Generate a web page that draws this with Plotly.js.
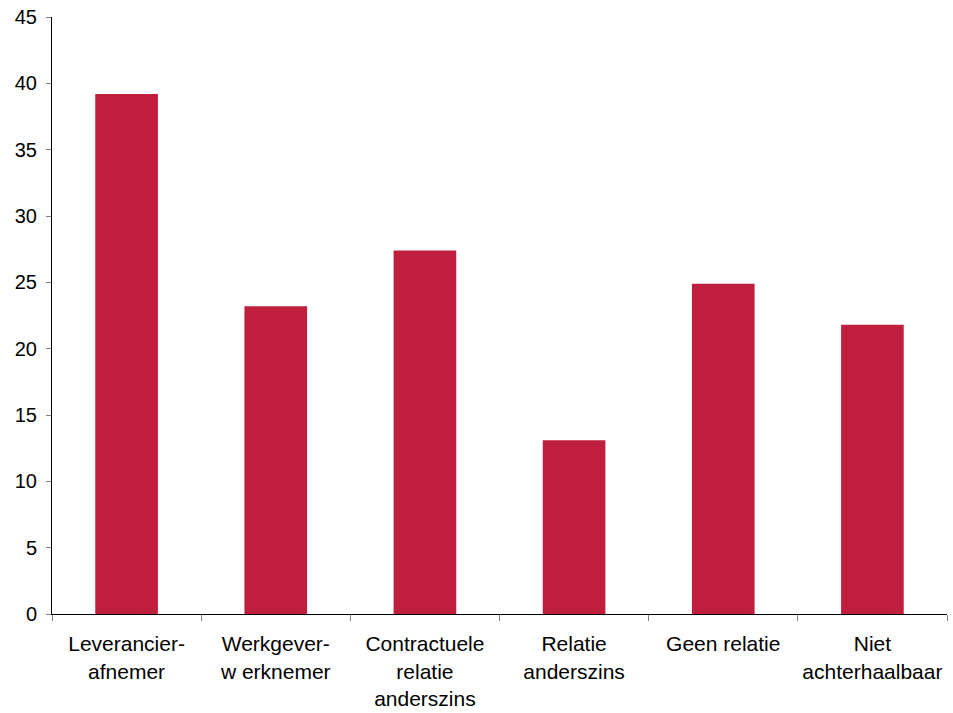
<!DOCTYPE html>
<html>
<head>
<meta charset="utf-8">
<script src="https://cdn.plot.ly/plotly-3.0.1.min.js"></script>
<style>html,body{margin:0;padding:0;background:#fff;}#chart{width:953px;height:713px;}</style>
</head>
<body>
<div id="chart"></div>
<script>
const categories = ["Leverancier-<br>afnemer", "Werkgever-<br>w erknemer", "Contractuele<br>relatie<br>anderszins", "Relatie<br>anderszins", "Geen relatie", "Niet<br>achterhaalbaar"];
const values = [39.2, 23.2, 27.4, 13.1, 24.9, 21.8];
const yTicks = [0, 5, 10, 15, 20, 25, 30, 35, 40, 45];

const trace = {
  type: 'bar',
  x: categories,
  y: values,
  marker: {color: 'rgb(192,30,61)', line: {width: 0}},
  hoverinfo: 'skip'
};

const layout = {
  width: 953,
  height: 713,
  margin: {l: 52, r: 6, t: 17, b: 99},
  paper_bgcolor: '#fff',
  plot_bgcolor: '#fff',
  bargap: 0.58,
  showlegend: false,
  font: {family: 'Arial, "Liberation Sans", sans-serif', color: '#000'},
  xaxis: {
    type: 'category',
    tickson: 'boundaries',
    ticks: 'outside',
    ticklen: 6,
    tickcolor: '#808080',
    tickwidth: 1,
    ticklabelstandoff: 11,
    showline: true,
    linecolor: '#000',
    linewidth: 1,
    showgrid: false,
    zeroline: false,
    tickfont: {size: 21, color: '#000'},
    automargin: false
  },
  yaxis: {
    range: [0, 45],
    tickvals: yTicks,
    ticktext: yTicks.map(String),
    ticks: 'outside',
    ticklen: 5,
    tickcolor: '#808080',
    ticklabelstandoff: 5,
    showline: true,
    linecolor: '#000',
    linewidth: 1,
    showgrid: false,
    zeroline: false,
    tickfont: {size: 20, color: '#000'},
    automargin: false
  }
};

Plotly.newPlot('chart', [trace], layout, {displayModeBar: false, staticPlot: true});
</script>
</body>
</html>
